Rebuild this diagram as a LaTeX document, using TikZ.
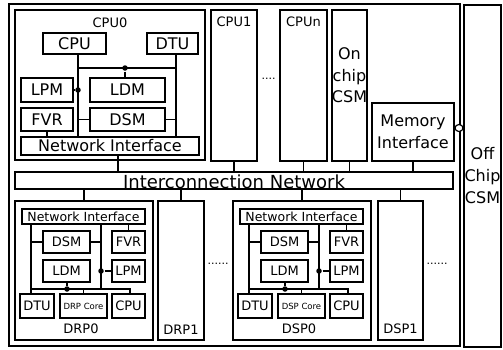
\documentclass[tikz,border=0pt]{standalone}
\usepackage{fontspec}
\setmainfont{DejaVu Sans}
\usetikzlibrary{shapes.geometric}
\begin{document}
\begin{tikzpicture}[x=1pt, y=-1pt, line width=1.5pt,
    blk/.style={draw, rectangle, inner sep=0pt, line width=1.5pt},
    big/.style={font=\fontsize{16}{21.5}\selectfont},
    small/.style={font=\fontsize{13}{15}\selectfont},
    ttl/.style={font=\fontsize{13}{15}\selectfont, inner sep=0pt},
    dots/.style={font=\fontsize{11}{11}\selectfont, inner sep=0pt},
    jn/.style={circle, fill, inner sep=0pt, minimum size=5.5pt}]
    \useasboundingbox (0,0) rectangle (503,349);

    % Chip frame and off chip memory
    \node[blk, minimum width=451pt, minimum height=342pt] (chip) at (234.5,175) {};
    \node[blk, align=center, font=\fontsize{16}{22}\selectfont, minimum width=37pt, minimum height=342pt] (offcsm) at (482.5,176) {Off\\Chip\\CSM};
    \node[draw, ellipse, fill=white, inner sep=0pt, minimum width=8pt, minimum height=7pt, line width=1.2pt] (port) at (459,128) {};

    % CPU0
    \node[blk, minimum width=190pt, minimum height=150pt, label={[ttl, anchor=north, yshift=-8pt]north:CPU0}] (cpu0) at (110,85) {};
    \node[blk, big, minimum width=63pt, minimum height=21pt] (c0cpu) at (74.5,43.5) {CPU};
    \node[blk, big, minimum width=51pt, minimum height=21pt] (c0dtu) at (172.5,43.5) {DTU};
    \node[blk, big, minimum width=52pt, minimum height=24pt] (c0lpm) at (47,90) {LPM};
    \node[blk, big, minimum width=75pt, minimum height=24pt] (c0ldm) at (127.5,90) {LDM};
    \node[blk, big, minimum width=52pt, minimum height=23pt] (c0fvr) at (47,119.5) {FVR};
    \node[blk, big, minimum width=75pt, minimum height=23pt] (c0dsm) at (127.5,119.5) {DSM};
    \node[blk, big, minimum width=178pt, minimum height=18pt] (c0ni) at (110,146) {Network Interface};

    % CPU0 buses
    \coordinate (c0l) at (78,68);
    \coordinate (c0r) at (176,68);
    \draw (c0cpu.south -| c0l) -- (c0ni.north -| c0l);
    \draw (c0l) -- (c0r);
    \draw (c0dtu.south -| c0r) -- (c0ni.north -| c0r);
    \node[jn] (c0j1) at (125,68) {};
    \draw (c0j1) -- (c0ldm.north -| c0j1);
    \node[jn] (c0j2) at (78,90) {};
    \draw (c0j2) -- (c0lpm.east);
    \draw (c0dsm.west) -- (c0dsm.west -| c0l);
    \draw (c0dsm.east) -- (c0dsm.east -| c0r);
    \draw (c0fvr.south) -- (c0ni.north -| c0fvr.south);

    % Other processors and on chip memory
    \node[blk, minimum width=46pt, minimum height=151pt, label={[ttl, anchor=north, yshift=-7pt]north:CPU1}] (cpu1) at (234,85.5) {};
    \node[blk, minimum width=47pt, minimum height=151pt, label={[ttl, anchor=north, yshift=-7pt]north:CPUn}] (cpun) at (303.5,85.5) {};
    \node[dots] (gap0) at (268.5,79) {....};
    \node[blk, minimum width=35pt, minimum height=151pt, label={[big, align=center, anchor=north, inner sep=0pt, yshift=-38pt]north:On\\chip\\CSM}] (oncsm) at (349.5,85.5) {};
    \node[blk, big, align=center, minimum width=82pt, minimum height=58pt] (memif) at (413,132) {Memory\\Interface};

    % Interconnection network
    \node[blk, font=\fontsize{18}{20}\selectfont, text height=15pt, text depth=0pt, minimum width=438pt, minimum height=17pt] (net) at (234,180.5) {Interconnection Network};
    \draw ([xshift=8pt]c0ni.south) coordinate (c0out) -- (c0out |- net.north);
    \draw (cpu1.south) -- (net.north -| cpu1.south);
    \draw (cpun.south) -- (net.north -| cpun.south);
    \draw (oncsm.south) -- (net.north -| oncsm.south);
    \draw (memif.south) -- (net.north -| memif.south);

    % DRP0 and DSP0
    \foreach \dx/\nm in {0/DRP, 218/DSP} {
      \begin{scope}[xshift=\dx pt]
        \node[blk, minimum width=138pt, minimum height=139pt, label={[ttl, anchor=south, yshift=6pt, xshift=-3pt]south:\nm0}] (\nm0) at (84,270.5) {};
        \node[blk, font=\fontsize{12.5}{15}\selectfont, minimum width=123pt, minimum height=15pt] (\nm-ni) at (83.5,216.5) {Network Interface};
        \node[blk, small, minimum width=47pt, minimum height=22pt] (\nm-dsm) at (66.5,242) {DSM};
        \node[blk, small, minimum width=33pt, minimum height=22pt] (\nm-fvr) at (128.5,242) {FVR};
        \node[blk, small, minimum width=47pt, minimum height=22pt] (\nm-ldm) at (66.5,271) {LDM};
        \node[blk, small, minimum width=33pt, minimum height=22pt] (\nm-lpm) at (128.5,271) {LPM};
        \node[blk, small, minimum width=34pt, minimum height=24pt] (\nm-dtu) at (37,306) {DTU};
        \node[blk, font=\fontsize{8.5}{10}\selectfont, minimum width=47pt, minimum height=24pt] (\nm-core) at (83.5,306) {\nm{} Core};
        \node[blk, small, minimum width=33pt, minimum height=24pt] (\nm-cpu) at (128.5,306) {CPU};
        % buses
        \coordinate (\nm-l) at (31,289);
        \coordinate (\nm-r) at (101,289);
        \coordinate (\nm-e) at (130,289);
        \draw (\nm-ni.south -| \nm-l) -- (\nm-dtu.north -| \nm-l);
        \draw (\nm-dsm.west) -- (\nm-dsm.west -| \nm-l);
        \draw (\nm-ni.south -| \nm-r) -- (\nm-r);
        \draw (\nm-dsm.east) -- (\nm-dsm.east -| \nm-r);
        \node[jn] (\nm-j1) at (101,271) {};
        \draw (\nm-j1) -- (\nm-lpm.west);
        \draw (\nm-l) -- (\nm-e) -- (\nm-cpu.north -| \nm-e);
        \node[jn] (\nm-j2) at (67,289) {};
        \draw (\nm-j2) -- (\nm-ldm.south -| \nm-j2);
        \draw (\nm-core.north) -- (\nm-core.north |- \nm-l);
        \draw (\nm-fvr.north) -- (\nm-ni.south -| \nm-fvr.north);
        \draw (net.south -| \nm0.north) -- (\nm0.north);
      \end{scope}
    }

    % DRP1 and DSP1
    \node[blk, minimum width=46pt, minimum height=139pt, label={[ttl, anchor=south, yshift=6pt]south:DRP1}] (DRP1) at (181,270.5) {};
    \node[blk, minimum width=45pt, minimum height=139pt, label={[ttl, anchor=south, yshift=6pt]south:DSP1}] (DSP1) at (400.5,270.5) {};
    \node[dots] (gap1) at (218,264) {......};
    \node[dots] (gap2) at (437,264) {......};
    \draw (net.south -| DRP1.north) -- (DRP1.north);
    \draw (net.south -| DSP1.north) -- (DSP1.north);
\end{tikzpicture}
\end{document}
